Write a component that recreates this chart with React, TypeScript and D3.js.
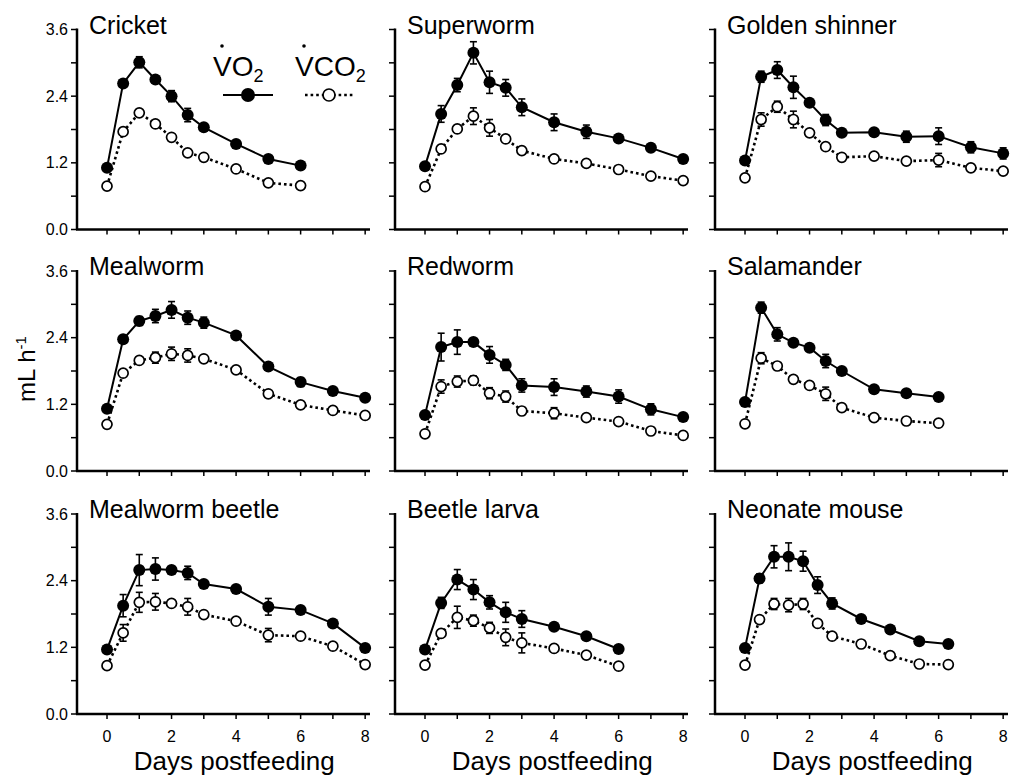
import React from "react";
import * as d3 from "d3";

// ---------- data ----------
const panelNames = [
  "Cricket", "Superworm", "Golden shinner",
  "Mealworm", "Redworm", "Salamander",
  "Mealworm beetle", "Beetle larva", "Neonate mouse",
];

const days10 = [0, 0.5, 1, 1.5, 2, 2.5, 3, 4, 5, 6];
const days12 = [0, 0.5, 1, 1.5, 2, 2.5, 3, 4, 5, 6, 7, 8];
const mouseDays = [0, 0.45, 0.9, 1.35, 1.8, 2.25, 2.7, 3.6, 4.5, 5.4, 6.3];

const cricketVO2 = [1.11, 2.63, 3.01, 2.7, 2.4, 2.06, 1.84, 1.54, 1.27, 1.15];
const cricketVO2Err = [0, 0, 0.1, 0, 0.1, 0.12, 0, 0, 0, 0];
const cricketVCO2 = [0.78, 1.76, 2.1, 1.9, 1.66, 1.38, 1.3, 1.09, 0.84, 0.79];
const cricketVCO2Err = [0, 0, 0, 0, 0, 0, 0, 0, 0, 0];

const superwormVO2 = [1.14, 2.08, 2.6, 3.18, 2.65, 2.55, 2.2, 1.93, 1.76, 1.64, 1.47, 1.27];
const superwormVO2Err = [0, 0.15, 0.12, 0.2, 0.2, 0.15, 0.15, 0.15, 0.12, 0, 0, 0];
const superwormVCO2 = [0.77, 1.45, 1.81, 2.04, 1.83, 1.63, 1.42, 1.27, 1.19, 1.08, 0.96, 0.88];
const superwormVCO2Err = [0, 0, 0, 0.15, 0.15, 0, 0, 0, 0, 0, 0, 0];

const shinnerVO2 = [1.24, 2.75, 2.87, 2.56, 2.28, 1.97, 1.74, 1.75, 1.67, 1.68, 1.48, 1.37];
const shinnerVO2Err = [0, 0.1, 0.15, 0.2, 0, 0.1, 0, 0, 0.1, 0.15, 0.1, 0.1];
const shinnerVCO2 = [0.93, 1.98, 2.21, 1.98, 1.74, 1.49, 1.3, 1.32, 1.23, 1.25, 1.11, 1.05];
const shinnerVCO2Err = [0, 0.12, 0.1, 0.15, 0, 0, 0, 0, 0, 0.12, 0, 0];

const mealwormVO2 = [1.12, 2.37, 2.7, 2.79, 2.9, 2.76, 2.67, 2.44, 1.88, 1.6, 1.44, 1.32];
const mealwormVO2Err = [0, 0, 0.08, 0.12, 0.15, 0.12, 0.1, 0, 0, 0.08, 0, 0];
const mealwormVCO2 = [0.84, 1.76, 1.99, 2.04, 2.11, 2.08, 2.02, 1.82, 1.39, 1.19, 1.09, 1.0];
const mealwormVCO2Err = [0, 0, 0, 0.1, 0.12, 0.12, 0, 0, 0, 0, 0, 0];

const redwormVO2 = [1.01, 2.23, 2.32, 2.32, 2.09, 1.91, 1.54, 1.51, 1.43, 1.34, 1.11, 0.97];
const redwormVO2Err = [0, 0.25, 0.22, 0, 0.15, 0.1, 0.12, 0.15, 0.1, 0.12, 0.1, 0];
const redwormVCO2 = [0.67, 1.52, 1.61, 1.63, 1.4, 1.34, 1.08, 1.04, 0.96, 0.89, 0.72, 0.64];
const redwormVCO2Err = [0, 0.12, 0.1, 0.08, 0.1, 0.1, 0, 0.1, 0, 0, 0, 0];

const salamanderVO2 = [1.24, 2.94, 2.46, 2.31, 2.22, 1.98, 1.8, 1.47, 1.4, 1.33];
const salamanderVO2Err = [0, 0.1, 0.12, 0, 0, 0.12, 0, 0, 0, 0];
const salamanderVCO2 = [0.85, 2.03, 1.89, 1.65, 1.54, 1.39, 1.14, 0.96, 0.9, 0.86];
const salamanderVCO2Err = [0, 0.1, 0, 0, 0, 0.12, 0, 0, 0, 0];

const beetleVO2 = [1.16, 1.95, 2.59, 2.61, 2.59, 2.54, 2.34, 2.25, 1.93, 1.87, 1.63, 1.19];
const beetleVO2Err = [0, 0.2, 0.28, 0.2, 0, 0.12, 0, 0, 0.15, 0, 0, 0];
const beetleVCO2 = [0.87, 1.46, 2.01, 2.02, 1.99, 1.93, 1.79, 1.67, 1.42, 1.4, 1.22, 0.89];
const beetleVCO2Err = [0, 0.15, 0.18, 0.15, 0, 0.15, 0, 0, 0.12, 0, 0, 0];

const larvaVO2 = [1.16, 2.0, 2.42, 2.24, 2.01, 1.83, 1.71, 1.57, 1.4, 1.17];
const larvaVO2Err = [0, 0.1, 0.18, 0.18, 0.12, 0.18, 0.15, 0, 0, 0];
const larvaVCO2 = [0.88, 1.45, 1.74, 1.68, 1.55, 1.38, 1.28, 1.18, 1.06, 0.86];
const larvaVCO2Err = [0, 0, 0.2, 0.1, 0.1, 0.15, 0.18, 0, 0, 0];

const mouseVO2 = [1.19, 2.44, 2.83, 2.83, 2.75, 2.32, 1.99, 1.71, 1.52, 1.31, 1.26];
const mouseVO2Err = [0, 0.08, 0.2, 0.25, 0.18, 0.15, 0.1, 0, 0, 0, 0];
const mouseVCO2 = [0.88, 1.7, 1.98, 1.96, 1.98, 1.63, 1.4, 1.26, 1.05, 0.9, 0.89];
const mouseVCO2Err = [0, 0, 0.1, 0.12, 0.1, 0, 0, 0, 0, 0, 0];

const yTicks = [0, 0.6, 1.2, 1.8, 2.4, 3.0, 3.6];
const yTickLabels = [0, 1.2, 2.4, 3.6];
const xTicks = [0, 1, 2, 3, 4, 5, 6, 7, 8];
const xTickLabels = [0, 2, 4, 6, 8];

const panels = [
  { days: days10, vo2: cricketVO2, vo2Err: cricketVO2Err, vco2: cricketVCO2, vco2Err: cricketVCO2Err },
  { days: days12, vo2: superwormVO2, vo2Err: superwormVO2Err, vco2: superwormVCO2, vco2Err: superwormVCO2Err },
  { days: days12, vo2: shinnerVO2, vo2Err: shinnerVO2Err, vco2: shinnerVCO2, vco2Err: shinnerVCO2Err },
  { days: days12, vo2: mealwormVO2, vo2Err: mealwormVO2Err, vco2: mealwormVCO2, vco2Err: mealwormVCO2Err },
  { days: days12, vo2: redwormVO2, vo2Err: redwormVO2Err, vco2: redwormVCO2, vco2Err: redwormVCO2Err },
  { days: days10, vo2: salamanderVO2, vo2Err: salamanderVO2Err, vco2: salamanderVCO2, vco2Err: salamanderVCO2Err },
  { days: days12, vo2: beetleVO2, vo2Err: beetleVO2Err, vco2: beetleVCO2, vco2Err: beetleVCO2Err },
  { days: days10, vo2: larvaVO2, vo2Err: larvaVO2Err, vco2: larvaVCO2, vco2Err: larvaVCO2Err },
  { days: mouseDays, vo2: mouseVO2, vo2Err: mouseVO2Err, vco2: mouseVCO2, vco2Err: mouseVCO2Err },
].map((p, i) => ({ ...p, name: panelNames[i] }));

// ---------- layout ----------
const W = 1011;
const H = 780;
const colX = [77, 395, 715];
const rowTop = [29.5, 271, 514];
const plotH = 200;
const plotW = 293;
const FONT = "'Liberation Sans', Arial, Helvetica, sans-serif";

function Panel({ p, col, row }: { p: any; col: number; row: number }) {
  const x0 = colX[col];
  const y0 = rowTop[row];
  const x = d3.scaleLinear().domain([-0.93, 8.15]).range([x0, x0 + plotW]);
  const y = d3.scaleLinear().domain([0, 3.6]).range([y0 + plotH, y0]);
  const line = d3
    .line<number>()
    .x((_, i) => x(p.days[i]))
    .y((v) => y(v));
  const errBars = (vals: number[], errs: number[]) =>
    vals.map((v, i) =>
      errs[i] > 0 ? (
        <g key={i} stroke="#000" strokeWidth={1.6}>
          <line x1={x(p.days[i])} x2={x(p.days[i])} y1={y(v - errs[i])} y2={y(v + errs[i])} />
          <line x1={x(p.days[i]) - 3.5} x2={x(p.days[i]) + 3.5} y1={y(v - errs[i])} y2={y(v - errs[i])} />
          <line x1={x(p.days[i]) - 3.5} x2={x(p.days[i]) + 3.5} y1={y(v + errs[i])} y2={y(v + errs[i])} />
        </g>
      ) : null
    );
  const bottom = y(0);
  return (
    <g>
      {/* y axis */}
      <line x1={x0} x2={x0} y1={y(3.6) - 1} y2={bottom} stroke="#000" strokeWidth={2.5} />
      {yTicks.map((t) => (
        <line key={t} x1={x0 - 6} x2={x0} y1={y(t)} y2={y(t)} stroke="#000" strokeWidth={1.5} />
      ))}
      {col === 0 &&
        yTickLabels.map((t) => (
          <text key={t} x={x0 - 9} y={y(t) + 5.5} textAnchor="end" fontSize={16} fontFamily={FONT}>
            {d3.format(".1f")(t)}
          </text>
        ))}
      {/* x axis */}
      <line x1={x0 - 1} x2={x0 + plotW} y1={bottom} y2={bottom} stroke="#000" strokeWidth={2.5} />
      {xTicks.map((t) => (
        <line key={t} x1={x(t)} x2={x(t)} y1={bottom} y2={bottom + 5} stroke="#000" strokeWidth={1.5} />
      ))}
      {row === 2 &&
        xTickLabels.map((t) => (
          <text key={t} x={x(t)} y={bottom + 28} textAnchor="middle" fontSize={16} fontFamily={FONT}>
            {t}
          </text>
        ))}
      {/* title */}
      <text x={x0 + 12} y={y0 + 4} fontSize={25} fontFamily={FONT}>
        {p.name}
      </text>
      {/* series */}
      <path d={line(p.vco2) || ""} fill="none" stroke="#000" strokeWidth={2.6} strokeDasharray="2.6,3" />
      <path d={line(p.vo2) || ""} fill="none" stroke="#000" strokeWidth={2} />
      {errBars(p.vco2, p.vco2Err)}
      {errBars(p.vo2, p.vo2Err)}
      {p.vco2.map((v: number, i: number) => (
        <circle key={"o" + i} cx={x(p.days[i])} cy={y(v)} r={5} fill="#fff" stroke="#000" strokeWidth={1.7} />
      ))}
      {p.vo2.map((v: number, i: number) => (
        <circle key={"f" + i} cx={x(p.days[i])} cy={y(v)} r={6} fill="#000" />
      ))}
    </g>
  );
}

export default function App() {
  return (
    <svg
      width={W}
      height={H}
      viewBox={`0 0 ${W} ${H}`}
      style={{ display: "block", background: "#fff", position: "absolute", left: 0, top: 0 }}
    >
      <rect width={W} height={H} fill="#fff" />
      {panels.map((p, i) => (
        <Panel key={i} p={p} col={i % 3} row={Math.floor(i / 3)} />
      ))}
      {/* legend */}
      <g fontFamily={FONT}>
        <text x={213} y={76} fontSize={28}>
          VO<tspan fontSize={18} dy={6}>2</tspan>
        </text>
        <circle cx={222} cy={46} r={1.8} fill="#000" />
        <text x={295} y={76} fontSize={28}>
          VCO<tspan fontSize={18} dy={6}>2</tspan>
        </text>
        <circle cx={304} cy={46} r={1.8} fill="#000" />
        <line x1={223} x2={273} y1={95} y2={95} stroke="#000" strokeWidth={2} />
        <circle cx={248} cy={95} r={7} fill="#000" />
        <line x1={305} x2={353} y1={95} y2={95} stroke="#000" strokeWidth={2.6} strokeDasharray="2.6,3" />
        <circle cx={329} cy={95} r={6} fill="#fff" stroke="#000" strokeWidth={1.7} />
      </g>
      {/* y label */}
      <text
        transform="translate(35,369) rotate(-90)"
        textAnchor="middle"
        fontSize={24}
        fontFamily={FONT}
      >
        mL h<tspan fontSize={15} dy={-9}>-1</tspan>
      </text>
      {/* x labels */}
      {[0, 1, 2].map((c) => (
        <text key={c} x={colX[c] + 30 + 4 * 32.3 - 2} y={770} textAnchor="middle" fontSize={26} fontFamily={FONT}>
          Days postfeeding
        </text>
      ))}
    </svg>
  );
}
